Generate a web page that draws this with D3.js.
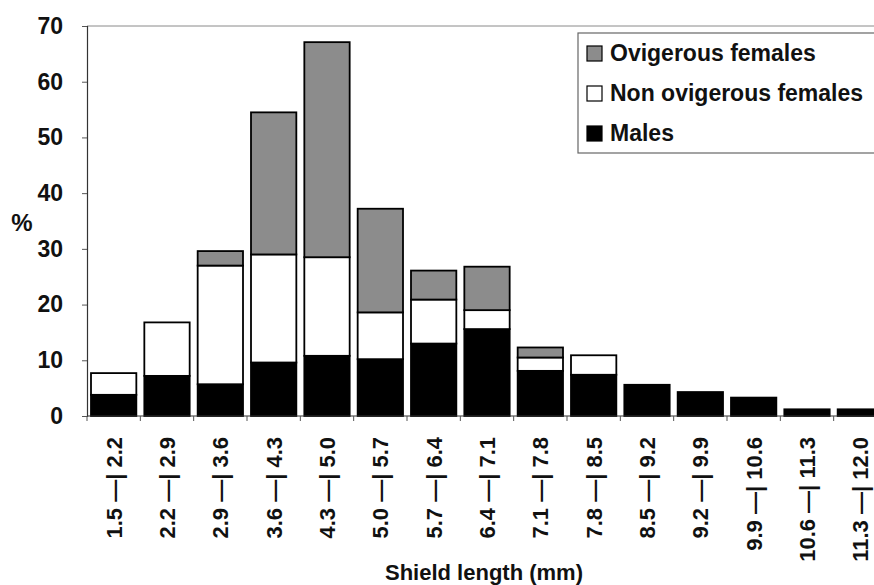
<!DOCTYPE html>
<html>
<head>
<meta charset="utf-8">
<script src="https://cdn.jsdelivr.net/npm/d3@7"></script>
<style>
  body { margin: 0; background: #fff; }
  svg { display: block; font-family: 'Liberation Sans', Arial, sans-serif; font-weight: bold; }
</style>
</head>
<body>
<div id="chart"></div>
<script>
// Size classes (shield length, mm)
const categories = ['1.5 —| 2.2', '2.2 —| 2.9', '2.9 —| 3.6', '3.6 —| 4.3', '4.3 —| 5.0',
  '5.0 —| 5.7', '5.7 —| 6.4', '6.4 —| 7.1', '7.1 —| 7.8', '7.8 —| 8.5',
  '8.5 —| 9.2', '9.2 —| 9.9', '9.9 —| 10.6', '10.6 —| 11.3', '11.3 —| 12.0'];

// Percentages, stacked bottom to top
const males = [3.8, 7.2, 5.7, 9.6, 10.8, 10.2, 13.0, 15.6, 8.1, 7.4, 5.6, 4.3, 3.3, 1.2, 1.2];
const nonOvigerous = [3.9, 9.6, 21.3, 19.4, 17.7, 8.4, 7.9, 3.4, 2.4, 3.5, 0, 0, 0, 0, 0];
const ovigerous = [0, 0, 2.6, 25.5, 38.6, 18.6, 5.2, 7.8, 1.8, 0, 0, 0, 0, 0, 0];

const yTicks = [0, 10, 20, 30, 40, 50, 60, 70];
const seriesNames = ['Ovigerous females', 'Non ovigerous females', 'Males'];

const width = 874;
const height = 585;
const margin = {top: 26, right: -13, bottom: 169, left: 87};

const svg = d3.select('#chart').append('svg')
  .attr('width', width)
  .attr('height', height);

const x = d3.scaleBand()
  .domain(categories)
  .range([margin.left, width - margin.right])
  .paddingInner(0.15)
  .paddingOuter(0.075);

const y = d3.scaleLinear()
  .domain([0, 70])
  .range([height - margin.bottom, margin.top]);

// Build stack rows
const rows = categories.map(function(c, i) {
  return {cat: c, males: males[i], non: nonOvigerous[i], ovi: ovigerous[i]};
});
const stack = d3.stack().keys(['males', 'non', 'ovi']);
const layers = stack(rows);
const fills = {males: '#000000', non: '#ffffff', ovi: '#8c8c8c'};

// Top border of plot area
svg.append('line')
  .attr('x1', margin.left).attr('x2', width)
  .attr('y1', y(70)).attr('y2', y(70))
  .attr('stroke', '#8a8a8a')
  .attr('stroke-width', 1);

// Bars
layers.forEach(function(layer) {
  svg.append('g')
    .selectAll('rect')
    .data(layer.filter(function(d) { return d[1] - d[0] > 0; }))
    .join('rect')
    .attr('x', function(d) { return x(d.data.cat); })
    .attr('width', x.bandwidth())
    .attr('y', function(d) { return y(d[1]); })
    .attr('height', function(d) { return y(d[0]) - y(d[1]); })
    .attr('fill', fills[layer.key])
    .attr('stroke', '#000')
    .attr('stroke-width', 1.8);
});

// Y axis
const yAxis = svg.append('g')
  .attr('transform', 'translate(' + margin.left + ',0)')
  .call(d3.axisLeft(y).tickValues(yTicks).tickSize(5).tickPadding(19));
yAxis.select('.domain').attr('stroke', '#333').attr('stroke-width', 1.2);
yAxis.selectAll('.tick line').attr('stroke', '#555');
yAxis.selectAll('text')
  .attr('fill', '#111')
  .style('font-size', '23px')
  .style('font-weight', 'bold');

// X axis: ticks on class boundaries
const step = x.step();
const boundaries = d3.range(categories.length + 1).map(function(i) {
  return x(categories[0]) - step * x.paddingInner() / 2 + i * step;
});
const xAxisG = svg.append('g');
xAxisG.append('line')
  .attr('x1', margin.left).attr('x2', width)
  .attr('y1', y(0)).attr('y2', y(0))
  .attr('stroke', '#333').attr('stroke-width', 1.2);
xAxisG.selectAll('.xtick')
  .data(boundaries)
  .join('line')
  .attr('class', 'xtick')
  .attr('x1', function(d) { return d; }).attr('x2', function(d) { return d; })
  .attr('y1', y(0)).attr('y2', y(0) + 5)
  .attr('stroke', '#555');
xAxisG.selectAll('.xlabel')
  .data(categories)
  .join('text')
  .attr('class', 'xlabel')
  .attr('transform', function(d) {
    return 'translate(' + (x(d) + x.bandwidth() / 2) + ',' + (y(0) + 21) + ') rotate(-90)';
  })
  .attr('text-anchor', 'end')
  .attr('dy', '0.36em')
  .attr('fill', '#111')
  .style('font-size', '22px')
  .text(function(d) { return d; });

// Axis titles
svg.append('text')
  .attr('x', 22).attr('y', y(35) + 10)
  .attr('text-anchor', 'middle')
  .attr('fill', '#111')
  .style('font-size', '24px')
  .text('%');

svg.append('text')
  .attr('x', 484).attr('y', 580)
  .attr('text-anchor', 'middle')
  .attr('fill', '#111')
  .style('font-size', '22px')
  .text('Shield length (mm)');

// Legend
const legend = svg.append('g').attr('transform', 'translate(578,33)');
legend.append('rect')
  .attr('width', 320).attr('height', 120)
  .attr('fill', '#fff')
  .attr('stroke', '#666').attr('stroke-width', 1.2);
const legendFills = ['#8c8c8c', '#ffffff', '#000000'];
const legendRows = legend.selectAll('.lrow')
  .data(seriesNames)
  .join('g')
  .attr('class', 'lrow')
  .attr('transform', function(d, i) { return 'translate(9,' + (20 + i * 40) + ')'; });
legendRows.append('rect')
  .attr('x', 0).attr('y', -7)
  .attr('width', 15).attr('height', 15)
  .attr('fill', function(d, i) { return legendFills[i]; })
  .attr('stroke', '#000').attr('stroke-width', 1.2);
legendRows.append('text')
  .attr('x', 23).attr('dy', '0.36em')
  .attr('fill', '#111')
  .style('font-size', '23px')
  .text(function(d) { return d; });
</script>
</body>
</html>
